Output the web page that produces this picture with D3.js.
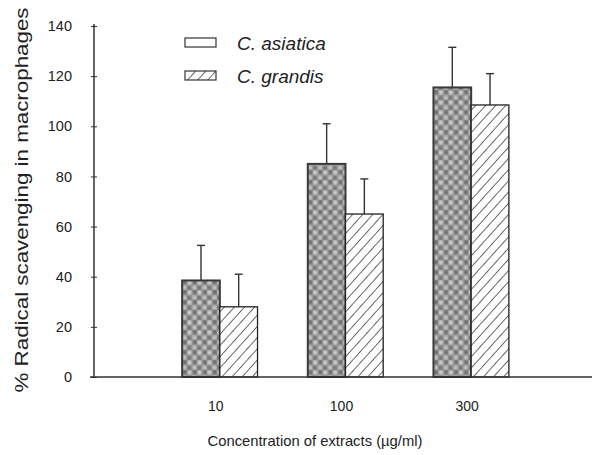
<!DOCTYPE html>
<html>
<head>
<meta charset="utf-8">
<script src="https://cdn.jsdelivr.net/npm/d3@7"></script>
<style>
  body { margin: 0; background: #fff; }
  text { font-family: "Liberation Sans", Arial, sans-serif; fill: #222; }
</style>
</head>
<body>
<svg id="chart" width="596" height="455"></svg>
<script>
// data
const categories = ['10', '100', '300'];
const seriesNames = ['C. asiatica', 'C. grandis'];
const asiatica = [38.5, 85, 115.5];
const asiaticaErr = [14, 16, 16];
const grandis = [28, 65, 108.5];
const grandisErr = [13, 14, 12.5];
const yTicks = [0, 20, 40, 60, 80, 100, 120, 140];

const svg = d3.select('#chart');

// patterns
const defs = svg.append('defs');
const blur = defs.append('filter').attr('id', 'soft')
  .attr('x', '-50%').attr('y', '-50%').attr('width', '200%').attr('height', '200%');
blur.append('feGaussianBlur').attr('stdDeviation', 1);

const dots = defs.append('pattern').attr('id', 'dots')
  .attr('patternUnits', 'userSpaceOnUse').attr('width', 10).attr('height', 10);
dots.append('rect').attr('width', 10).attr('height', 10).attr('fill', '#909090');
dots.append('g').attr('filter', 'url(#soft)').selectAll('circle')
  .data([[2.5, 2.5, '#dcdcdc'], [7.5, 7.5, '#cfcfcf'], [7.5, 2.5, '#666'], [2.5, 7.5, '#707070']])
  .enter().append('circle')
  .attr('cx', d => d[0]).attr('cy', d => d[1]).attr('r', 2.2)
  .attr('fill', d => d[2]);

const hatch = defs.append('pattern').attr('id', 'hatch')
  .attr('patternUnits', 'userSpaceOnUse').attr('width', 7.5).attr('height', 10)
  .attr('patternTransform', 'rotate(42)');
hatch.append('rect').attr('width', 7.5).attr('height', 10).attr('fill', '#fff');
hatch.append('line').attr('x1', 0).attr('y1', 0).attr('x2', 0).attr('y2', 10)
  .attr('stroke', '#1a1a1a').attr('stroke-width', 1.3);

// scales
const y = d3.scaleLinear().domain([0, 140]).range([377, 26]);
const x = d3.scaleBand().domain(categories).range([157, 534]);
const xs = d3.scaleBand().domain(seriesNames)
  .range([x.bandwidth() * 0.2, x.bandwidth() * 0.8]);

const fills = ['url(#dots)', 'url(#hatch)'];
const values = [asiatica, grandis];
const errs = [asiaticaErr, grandisErr];

// bars
const groups = svg.append('g').selectAll('g')
  .data(categories)
  .enter().append('g')
  .attr('transform', d => `translate(${x(d)},0)`);

groups.each(function (cat, i) {
  const g = d3.select(this);
  seriesNames.forEach((s, k) => {
    const v = values[k][i];
    const e = errs[k][i];
    const cx = xs(s) + xs.bandwidth() / 2;
    g.append('line')
      .attr('x1', cx).attr('x2', cx)
      .attr('y1', y(v)).attr('y2', y(v + e))
      .attr('stroke', '#333').attr('stroke-width', 1.4);
    g.append('line')
      .attr('x1', cx - 4).attr('x2', cx + 4)
      .attr('y1', y(v + e)).attr('y2', y(v + e))
      .attr('stroke', '#333').attr('stroke-width', 1.4);
    g.append('rect')
      .attr('x', xs(s)).attr('width', xs.bandwidth())
      .attr('y', y(v)).attr('height', y(0) - y(v))
      .attr('fill', fills[k])
      .attr('stroke', k === 0 ? '#3a3a3a' : '#222')
      .attr('stroke-width', k === 0 ? 2 : 1.3);
  });
});

// axes
const yAxis = d3.axisLeft(y).tickValues(yTicks).tickSize(0).tickPadding(22);
const ya = svg.append('g').attr('transform', 'translate(94,0)').call(yAxis);
ya.select('.domain').remove();
ya.selectAll('text').attr('font-size', 14.5).attr('fill', '#1a1a1a')
  .attr('font-family', '"Liberation Sans", Arial, sans-serif');
ya.selectAll('.tick').append('line')
  .attr('x1', -3).attr('x2', 3).attr('stroke', '#333').attr('stroke-width', 1);

svg.append('line')
  .attr('x1', 94).attr('x2', 94).attr('y1', y(140) - 2).attr('y2', y(0))
  .attr('stroke', '#333').attr('stroke-width', 1.5);
svg.append('line')
  .attr('x1', 90).attr('x2', 592).attr('y1', y(0)).attr('y2', y(0))
  .attr('stroke', '#333').attr('stroke-width', 1.5);

const xAxis = d3.axisBottom(x).tickSize(0).tickPadding(24);
const xa = svg.append('g').attr('transform', `translate(-4,${y(0)})`).call(xAxis);
xa.select('.domain').remove();
xa.selectAll('text').attr('font-size', 14).attr('fill', '#1a1a1a')
  .attr('font-family', '"Liberation Sans", Arial, sans-serif');

// titles
svg.append('text')
  .attr('x', 315).attr('y', 446)
  .attr('text-anchor', 'middle')
  .attr('font-size', 14.5)
  .attr('textLength', 215).attr('lengthAdjust', 'spacingAndGlyphs')
  .text('Concentration of extracts (\u00b5g/ml)');

svg.append('text')
  .attr('transform', 'translate(28,200) rotate(-90)')
  .attr('text-anchor', 'middle')
  .attr('font-size', 18)
  .attr('textLength', 385).attr('lengthAdjust', 'spacingAndGlyphs')
  .text('% Radical scavenging in macrophages');

// legend
const legend = svg.append('g').selectAll('g')
  .data(seriesNames)
  .enter().append('g')
  .attr('transform', (d, i) => `translate(185,${38 + i * 33})`);
legend.append('rect')
  .attr('width', 31).attr('height', 9)
  .attr('fill', (d, i) => i === 0 ? '#fff' : 'url(#hatch)')
  .attr('stroke', '#333').attr('stroke-width', 1.2);
legend.append('text')
  .attr('x', 52).attr('y', 12)
  .attr('font-size', 19).attr('font-style', 'italic')
  .text(d => d);
</script>
</body>
</html>
